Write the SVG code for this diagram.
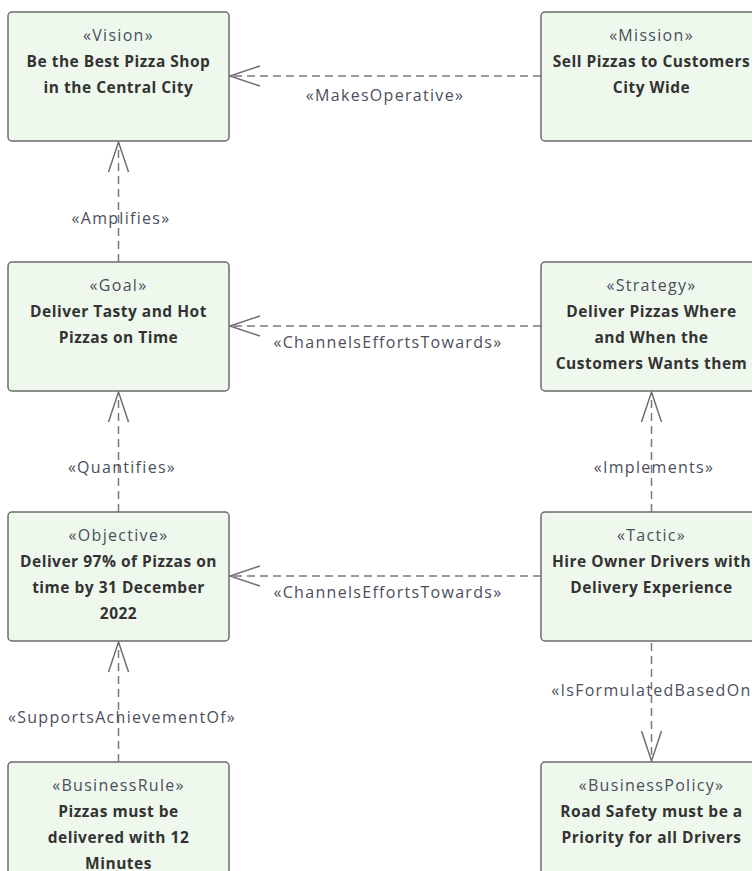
<svg xmlns="http://www.w3.org/2000/svg" width="752" height="871" viewBox="0 0 752 871">
<style>
.node rect{fill:#eff8ed;stroke:#6b6b6b;stroke-width:1.5}
.st{font-family:"Open Sans","Noto Sans",sans-serif;font-size:16px;letter-spacing:1.3px;fill:#4a4f5c;text-anchor:middle}
.nm{font-family:"Open Sans","Noto Sans",sans-serif;font-size:15.5px;letter-spacing:0.5px;font-weight:bold;fill:#333;text-anchor:middle}
.edge{stroke:#7a7a7a;stroke-width:1.5;fill:none;stroke-dasharray:8,5}
.head{stroke:#6e6e6e;stroke-width:1.5;fill:none}
.lb{font-family:"Open Sans","Noto Sans",sans-serif;font-size:16px;letter-spacing:1.3px;fill:#4a4f5c;text-anchor:middle}
</style>
<rect width="752" height="871" fill="#fff"/>
<g id="connectors">
<g id="e1"><path class="edge" d="M541,76 H231"/><path class="head" d="M260,66 L230,76 L260,86"/><text class="lb" x="385" y="101">«MakesOperative»</text></g>
<g id="e2"><path class="edge" d="M118.5,262 V143"/><path class="head" d="M108.5,172 L118.5,142 L128.5,172"/><text class="lb" x="121" y="224">«Amplifies»</text></g>
<g id="e3"><path class="edge" d="M541,326 H231"/><path class="head" d="M260,316 L230,326 L260,336"/><text class="lb" x="388" y="348">«ChannelsEffortsTowards»</text></g>
<g id="e4"><path class="edge" d="M118.5,512 V393"/><path class="head" d="M108.5,422 L118.5,392 L128.5,422"/><text class="lb" x="122" y="473">«Quantifies»</text></g>
<g id="e5"><path class="edge" d="M651.5,512 V393"/><path class="head" d="M641.5,422 L651.5,392 L661.5,422"/><text class="lb" x="654" y="473">«Implements»</text></g>
<g id="e6"><path class="edge" d="M541,576 H231"/><path class="head" d="M260,566 L230,576 L260,586"/><text class="lb" x="388" y="598">«ChannelsEffortsTowards»</text></g>
<g id="e7"><path class="edge" d="M118.5,762 V643"/><path class="head" d="M108.5,672 L118.5,642 L128.5,672"/><text class="lb" x="122" y="723">«SupportsAchievementOf»</text></g>
<g id="e8"><path class="edge" d="M651.5,643 V760"/><path class="head" d="M641.5,731 L651.5,761 L661.5,731"/><text class="lb" x="656" y="696">«IsFormulatedBasedOn»</text></g>
</g>
<g id="vision" class="node"><rect x="8" y="12" width="221" height="129" rx="4"/><text class="st" x="118.5" y="41">«Vision»</text><text class="nm" x="118.5" y="67">Be the Best Pizza Shop</text><text class="nm" x="118.5" y="93">in the Central City</text></g>
<g id="mission" class="node"><rect x="541" y="12" width="221" height="129" rx="4"/><text class="st" x="651.5" y="41">«Mission»</text><text class="nm" x="651.5" y="67">Sell Pizzas to Customers</text><text class="nm" x="651.5" y="93">City Wide</text></g>
<g id="goal" class="node"><rect x="8" y="262" width="221" height="129" rx="4"/><text class="st" x="118.5" y="291">«Goal»</text><text class="nm" x="118.5" y="317">Deliver Tasty and Hot</text><text class="nm" x="118.5" y="343">Pizzas on Time</text></g>
<g id="strategy" class="node"><rect x="541" y="262" width="221" height="129" rx="4"/><text class="st" x="651.5" y="291">«Strategy»</text><text class="nm" x="651.5" y="317">Deliver Pizzas Where</text><text class="nm" x="651.5" y="343">and When the</text><text class="nm" x="651.5" y="369">Customers Wants them</text></g>
<g id="objective" class="node"><rect x="8" y="512" width="221" height="129" rx="4"/><text class="st" x="118.5" y="541">«Objective»</text><text class="nm" x="118.5" y="567">Deliver 97% of Pizzas on</text><text class="nm" x="118.5" y="593">time by 31 December</text><text class="nm" x="118.5" y="619">2022</text></g>
<g id="tactic" class="node"><rect x="541" y="512" width="221" height="129" rx="4"/><text class="st" x="651.5" y="541">«Tactic»</text><text class="nm" x="651.5" y="567">Hire Owner Drivers with</text><text class="nm" x="651.5" y="593">Delivery Experience</text></g>
<g id="businessrule" class="node"><rect x="8" y="762" width="221" height="129" rx="4"/><text class="st" x="118.5" y="791">«BusinessRule»</text><text class="nm" x="118.5" y="817">Pizzas must be</text><text class="nm" x="118.5" y="843">delivered with 12</text><text class="nm" x="118.5" y="869">Minutes</text></g>
<g id="businesspolicy" class="node"><rect x="541" y="762" width="221" height="129" rx="4"/><text class="st" x="651.5" y="791">«BusinessPolicy»</text><text class="nm" x="651.5" y="817">Road Safety must be a</text><text class="nm" x="651.5" y="843">Priority for all Drivers</text></g>
</svg>
